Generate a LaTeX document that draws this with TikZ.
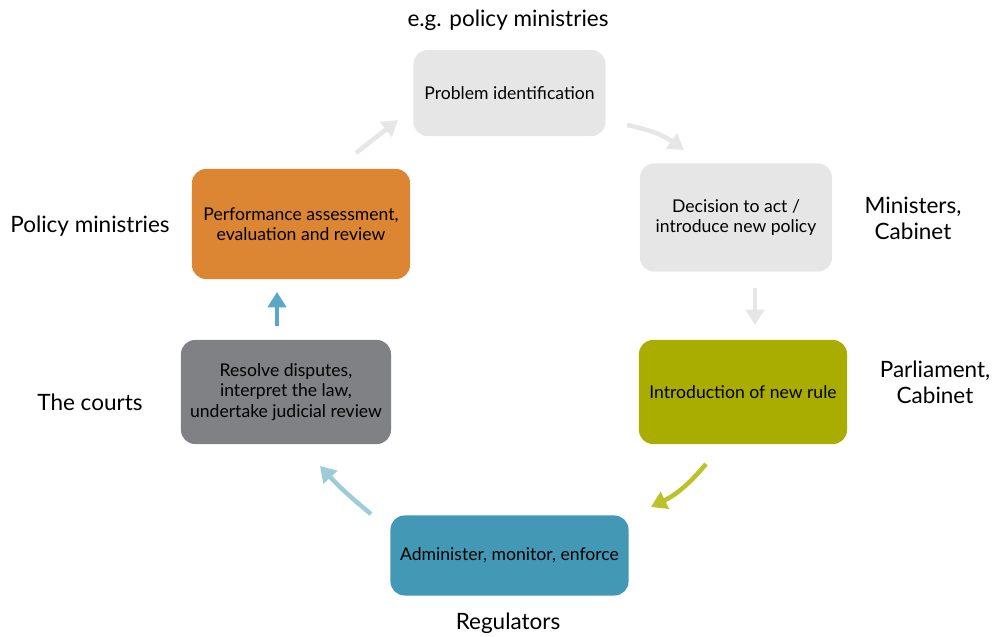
\documentclass[tikz,border=0pt]{standalone}
\usepackage{fontspec}
\setmainfont{Lato}
\usetikzlibrary{arrows.meta}

\definecolor{palegrey}{HTML}{E6E6E6}
\definecolor{stepolive}{HTML}{A8AD00}
\definecolor{stepteal}{HTML}{4298B5}
\definecolor{stepgrey}{HTML}{808184}
\definecolor{steporange}{HTML}{DC8633}
\definecolor{lightteal}{HTML}{9CCBD9}
\definecolor{midteal}{HTML}{5AA8C5}
\definecolor{arrowolive}{HTML}{BCC22A}

\tikzset{
  stage/.style={rounded corners=0.35cm, align=center, inner sep=0pt,
    font=\fontsize{12.5}{14.5}\selectfont},
  actor/.style={align=center, font=\fontsize{16}{18.5}\selectfont},
  flow/.style={line width=3.2pt, -{Triangle[length=11pt,width=13pt]}}
}

\begin{document}
\begin{tikzpicture}[x=0.025cm, y=-0.025cm]

			\useasboundingbox (0, 0) rectangle (992, 637);

			% the six stages of the cycle
			\node[stage, fill=palegrey, minimum width=4.8cm, minimum height=2.15cm] (problem) at (509.5, 93) {Problem identification};
			\node[stage, fill=palegrey, minimum width=4.8cm, minimum height=2.7cm] (decision) at (736, 217.5) {Decision to act /\\introduce new policy};
			\node[stage, fill=stepolive, minimum width=5.2cm, minimum height=2.6cm] (rule) at (743, 392) {Introduction of new rule};
			\node[stage, fill=stepteal, minimum width=5.95cm, minimum height=2cm] (enforce) at (509.5, 555.5) {Administer, monitor, enforce};
			\node[stage, fill=stepgrey, minimum width=5.25cm, minimum height=2.6cm] (courts) at (286, 392) {Resolve disputes,\\interpret the law,\\undertake judicial review};
			\node[stage, fill=steporange, minimum width=5.45cm, minimum height=2.75cm] (review) at (301, 224) {Performance assessment,\\evaluation and review};

			% who does what
			\node[actor] (ministries) at (508, 20) {e.g. policy ministries};
			\node[actor] (cabinet) at (913, 218) {Ministers,\\Cabinet};
			\node[actor] (parliament) at (935, 382) {Parliament,\\Cabinet};
			\node[actor] (regulators) at (508, 623) {Regulators};
			\node[actor] (judges) at (90, 402) {The courts};
			\node[actor] (policy) at (90, 226) {Policy ministries};

			% arrow ends between the stages
			\coordinate (a1) at (356, 153);
			\coordinate (a2) at (398, 120);
			\coordinate (b1) at (627, 125);
			\coordinate (b2) at (684, 150);
			\coordinate (c1) at (755, 288);
			\coordinate (c2) at (755, 325);
			\coordinate (d1) at (706, 464);
			\coordinate (d2) at (651, 507);
			\coordinate (e1) at (371, 514);
			\coordinate (e2) at (320, 466);
			\coordinate (f1) at (277, 326);
			\coordinate (f2) at (277, 292);

			\draw[flow, palegrey] (a1) -- (a2);
			\draw[flow, palegrey] (b1) to[bend left=12] (b2);
			\draw[flow, palegrey] (c1) -- (c2);
			\draw[flow, arrowolive] (d1) to[bend left=12] (d2);
			\draw[flow, lightteal] (e1) to[bend left=4] (e2);
			\draw[flow, midteal] (f1) -- (f2);

		\end{tikzpicture}
\end{document}
